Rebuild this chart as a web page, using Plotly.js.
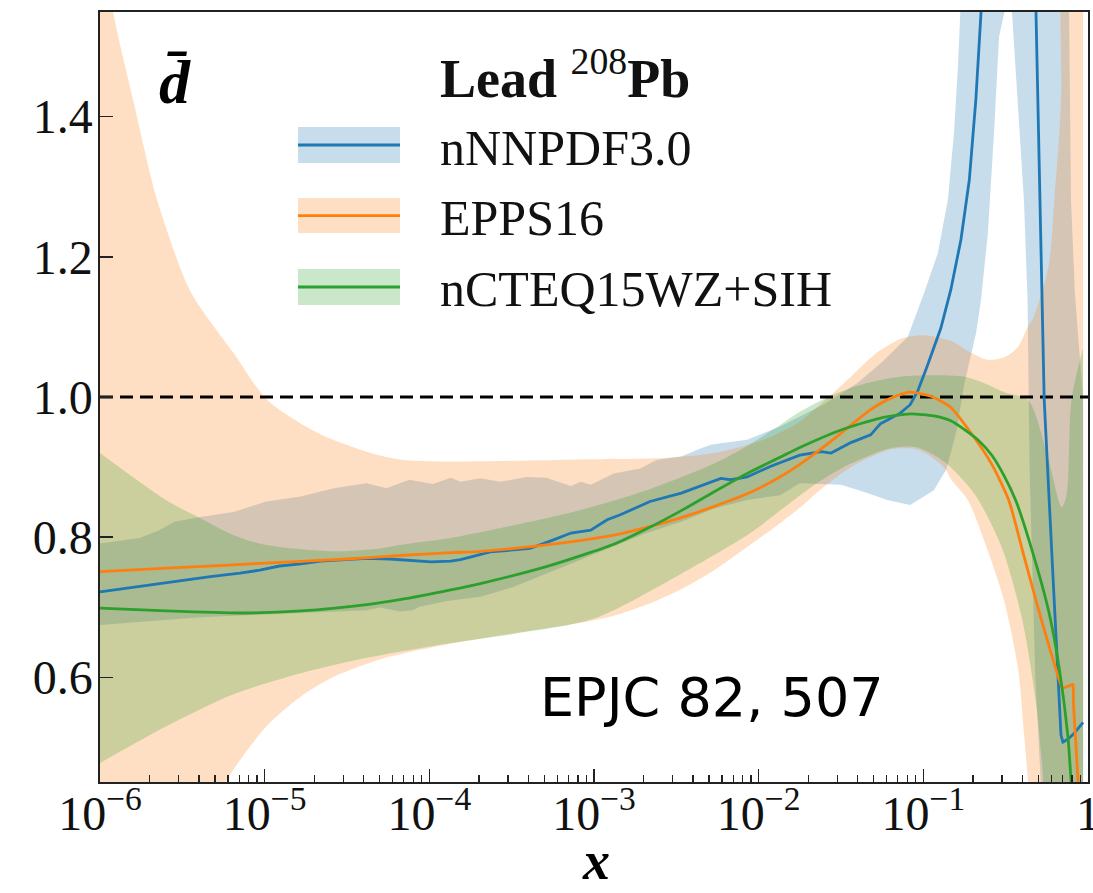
<!DOCTYPE html>
<html>
<head>
<meta charset="utf-8">
<script src="https://cdn.plot.ly/plotly-3.0.1.min.js"></script>
<style>html,body{margin:0;padding:0;background:#fff;}#chart{width:1093px;height:893px;}</style>
</head>
<body>
<div id="chart"></div>
<script>
// ---- Data: [log10(x), ratio] ----
const nnpdfCentral = [[-6,0.722],[-5.85,0.727],[-5.7,0.732],[-5.51,0.739],[-5.33,0.744],[-5.15,0.749],[-5.03,0.753],[-4.91,0.759],[-4.78,0.762],[-4.66,0.766],[-4.52,0.768],[-4.38,0.770],[-4.24,0.769],[-4.08,0.766],[-3.99,0.765],[-3.87,0.766],[-3.81,0.768],[-3.63,0.779],[-3.5,0.782],[-3.39,0.784],[-3.25,0.796],[-3.14,0.806],[-3.02,0.810],[-2.92,0.825],[-2.84,0.832],[-2.66,0.851],[-2.47,0.863],[-2.35,0.873],[-2.23,0.884],[-2.17,0.882],[-2.07,0.886],[-1.93,0.901],[-1.75,0.917],[-1.62,0.922],[-1.56,0.920],[-1.44,0.935],[-1.32,0.946],[-1.26,0.962],[-1.14,0.977],[-1.08,0.989],[-1.035,1.008],[-0.975,1.045],[-0.894,1.098],[-0.833,1.153],[-0.772,1.224],[-0.721,1.309],[-0.681,1.424],[-0.65,1.547],[-0.59,1.9],[-0.53,2.5],[-0.45,3.0],[-0.377,2.4],[-0.347,1.9],[-0.316,1.55],[-0.266,0.996],[-0.215,0.755],[-0.164,0.518],[-0.152,0.508],[-0.122,0.512],[-0.085,0.520],[-0.03,0.536]];
const nnpdfUpper = [[-6,0.791],[-5.76,0.799],[-5.64,0.810],[-5.55,0.822],[-5.39,0.829],[-5.19,0.836],[-5.15,0.839],[-4.99,0.851],[-4.78,0.858],[-4.58,0.870],[-4.38,0.877],[-4.26,0.870],[-4.18,0.877],[-4.12,0.882],[-3.98,0.876],[-3.87,0.885],[-3.81,0.879],[-3.69,0.884],[-3.57,0.879],[-3.41,0.886],[-3.29,0.885],[-3.14,0.873],[-3.08,0.879],[-3.02,0.875],[-2.88,0.891],[-2.72,0.898],[-2.62,0.910],[-2.47,0.915],[-2.35,0.927],[-2.29,0.932],[-2.23,0.934],[-2.07,0.939],[-1.87,0.958],[-1.6,0.99],[-1.4,1.02],[-1.25,1.05],[-1.094,1.086],[-0.996,1.148],[-0.912,1.205],[-0.851,1.281],[-0.814,1.376],[-0.79,1.47],[-0.775,1.55],[-0.74,1.9],[-0.6,2.8],[-0.45,3.5],[-0.3,3.0],[-0.2,2.2],[-0.14,1.75],[-0.115,1.55],[-0.103,1.28],[-0.08,1.15],[-0.061,1.09],[-0.03,1.0]];
const nnpdfLower = [[-6,0.675],[-5.39,0.686],[-4.78,0.692],[-4.38,0.696],[-4.3,0.700],[-4.22,0.696],[-4.18,0.694],[-4.1,0.696],[-4.06,0.701],[-3.89,0.709],[-3.69,0.715],[-3.49,0.729],[-3.28,0.749],[-3.08,0.768],[-2.88,0.787],[-2.68,0.806],[-2.47,0.822],[-2.27,0.841],[-2.07,0.853],[-1.87,0.860],[-1.75,0.877],[-1.5,0.875],[-1.34,0.863],[-1.22,0.853],[-1.08,0.846],[-0.936,0.867],[-0.86,0.897],[-0.8,0.95],[-0.75,1.02],[-0.7,1.07],[-0.68,1.091],[-0.65,1.138],[-0.608,1.234],[-0.571,1.376],[-0.54,1.514],[-0.497,1.56],[-0.48,1.6],[-0.462,1.55],[-0.428,1.424],[-0.389,1.281],[-0.367,1.138],[-0.355,0.9],[-0.32,0.6],[-0.28,0.42],[-0.2,0.3],[-0.03,0.3]];

const eppsCentral = [[-6,0.751],[-5.5,0.757],[-5,0.763],[-4.5,0.769],[-4.18,0.774],[-3.87,0.778],[-3.69,0.780],[-3.29,0.789],[-2.88,0.803],[-2.68,0.814],[-2.47,0.828],[-2.27,0.844],[-2.07,0.862],[-1.9,0.882],[-1.75,0.904],[-1.56,0.937],[-1.44,0.960],[-1.32,0.982],[-1.2,0.998],[-1.08,1.007],[-0.954,1.001],[-0.833,0.985],[-0.727,0.954],[-0.584,0.904],[-0.48,0.852],[-0.399,0.782],[-0.316,0.710],[-0.237,0.645],[-0.158,0.586],[-0.152,0.585],[-0.094,0.590],[-0.091,0.590],[-0.088,0.56],[-0.061,0.454],[-0.04,0.30]];
const eppsUpper = [[-6,1.75],[-5.96,1.62],[-5.921,1.55],[-5.799,1.424],[-5.653,1.281],[-5.471,1.16],[-5.392,1.128],[-5.19,1.063],[-4.985,0.996],[-4.68,0.949],[-4.38,0.922],[-4.18,0.911],[-3.87,0.908],[-3.08,0.911],[-2.58,0.913],[-2.27,0.920],[-1.97,0.939],[-1.75,0.965],[-1.6,0.995],[-1.44,1.029],[-1.3,1.06],[-1.137,1.083],[-1.0,1.088],[-0.833,1.08],[-0.71,1.063],[-0.608,1.053],[-0.505,1.057],[-0.426,1.071],[-0.365,1.10],[-0.33,1.114],[-0.24,1.186],[-0.205,1.28],[-0.164,1.42],[-0.155,1.7],[-0.03,1.8]];
const eppsLower = [[-6,0.15],[-5.5,0.33],[-5.23,0.454],[-4.99,0.530],[-4.78,0.573],[-4.58,0.601],[-4.28,0.627],[-3.87,0.648],[-3.49,0.663],[-3.08,0.678],[-2.88,0.688],[-2.68,0.704],[-2.47,0.726],[-2.27,0.753],[-2.07,0.786],[-1.87,0.820],[-1.75,0.842],[-1.64,0.865],[-1.44,0.90],[-1.2,0.925],[-1.035,0.925],[-0.875,0.90],[-0.83,0.882],[-0.73,0.853],[-0.632,0.796],[-0.511,0.711],[-0.426,0.615],[-0.389,0.521],[-0.365,0.454],[-0.34,0.35],[-0.03,0.3]];

const ncteqCentral = [[-6,0.699],[-5.6,0.695],[-5.15,0.692],[-4.78,0.695],[-4.38,0.704],[-4.18,0.711],[-3.87,0.725],[-3.69,0.734],[-3.29,0.758],[-2.88,0.790],[-2.68,0.812],[-2.47,0.838],[-2.27,0.865],[-2.07,0.891],[-1.87,0.914],[-1.75,0.928],[-1.5,0.953],[-1.26,0.970],[-1.08,0.976],[-0.936,0.973],[-0.833,0.966],[-0.748,0.953],[-0.66,0.937],[-0.584,0.917],[-0.51,0.888],[-0.438,0.852],[-0.338,0.780],[-0.237,0.693],[-0.174,0.612],[-0.122,0.516],[-0.103,0.454],[-0.08,0.38]];
const ncteqUpper = [[-6,0.920],[-5.6,0.853],[-5.39,0.827],[-5.19,0.803],[-4.99,0.789],[-4.58,0.780],[-4.3,0.784],[-4.18,0.789],[-3.87,0.799],[-3.69,0.807],[-3.08,0.839],[-2.68,0.867],[-2.27,0.905],[-2.07,0.930],[-1.87,0.960],[-1.75,0.979],[-1.54,1.004],[-1.34,1.020],[-1.14,1.029],[-0.94,1.031],[-0.75,1.029],[-0.632,1.02],[-0.5,1.006],[-0.365,0.996],[-0.25,0.92],[-0.16,0.843],[-0.13,0.86],[-0.1,0.996],[-0.03,1.07]];
const ncteqLower = [[-6,0.478],[-5.6,0.530],[-5.19,0.576],[-4.78,0.606],[-4.38,0.628],[-3.98,0.645],[-3.49,0.662],[-3.0,0.684],[-2.47,0.748],[-2.05,0.806],[-1.87,0.838],[-1.64,0.878],[-1.44,0.905],[-1.2,0.927],[-1.035,0.928],[-0.875,0.908],[-0.69,0.862],[-0.523,0.785],[-0.4,0.683],[-0.316,0.564],[-0.276,0.468],[-0.25,0.40],[-0.03,0.3]];

const refLineX = [1e-6, 1];
const refLineY = [1, 1];

const seriesNames = ['nNNPDF3.0', 'EPPS16', 'nCTEQ15WZ+SIH'];
const xTickVals = [1e-6, 1e-5, 1e-4, 1e-3, 1e-2, 1e-1, 1];
const xTickText = ['10<sup>−6</sup>', '10<sup>−5</sup>', '10<sup>−4</sup>', '10<sup>−3</sup>', '10<sup>−2</sup>', '10<sup>−1</sup>', '1'];
const yTickVals = [0.6, 0.8, 1.0, 1.2, 1.4];
const yTickText = ['0.6', '0.8', '1.0', '1.2', '1.4'];

// ---- styles ----
const colors = ['#1f77b4', '#ff7f0e', '#2ca02c'];
const fills = ['rgba(31,119,180,0.25)', 'rgba(255,127,14,0.25)', 'rgba(44,160,44,0.25)'];
const smooth = [false, true, true];

const xs = a => a.map(p => Math.pow(10, p[0]));
const ys = a => a.map(p => p[1]);
const shapeOf = i => smooth[i] ? {shape: 'spline', smoothing: 0.8} : {shape: 'linear'};

const bands = [[nnpdfLower, nnpdfUpper], [eppsLower, eppsUpper], [ncteqLower, ncteqUpper]];
const centrals = [nnpdfCentral, eppsCentral, ncteqCentral];

const traces = [];
bands.forEach((b, i) => {
  traces.push({x: xs(b[0]), y: ys(b[0]), mode: 'lines', line: Object.assign({width: 0, color: fills[i]}, shapeOf(i)), showlegend: false, hoverinfo: 'skip'});
  traces.push({x: xs(b[1]), y: ys(b[1]), mode: 'lines', line: Object.assign({width: 0, color: fills[i]}, shapeOf(i)), fill: 'tonexty', fillcolor: fills[i], showlegend: false, hoverinfo: 'skip', name: seriesNames[i] + ' band'});
});
traces.push({x: refLineX, y: refLineY, mode: 'lines', line: {color: '#000', width: 3, dash: '13px,7px'}, showlegend: false, hoverinfo: 'skip'});
centrals.forEach((c, i) => {
  traces.push({x: xs(c), y: ys(c), mode: 'lines', line: Object.assign({color: colors[i], width: 2.8}, smooth[i] ? {shape: 'spline', smoothing: 0.6} : {}), name: seriesNames[i], showlegend: false});
});

// minor ticks 2..9 per decade
const minorVals = [];
for (let e = -6; e < 0; e++) for (let m = 2; m <= 9; m++) minorVals.push(m * Math.pow(10, e));

// ---- manual legend (paper coordinates) ----
const L = 100, R = 1088, T = 12, B = 782;
const px = v => (v - L) / (R - L);
const py = v => (B - v) / (B - T);
const legRows = [[127, 163, 145, 148], [198, 233, 215.7, 218], [269, 305, 287, 289]];
const shapes = [];
const annotations = [];
legRows.forEach((r, i) => {
  shapes.push({type: 'rect', xref: 'paper', yref: 'paper', x0: px(298), x1: px(400), y0: py(r[1]), y1: py(r[0]), fillcolor: fills[i], line: {width: 0}, layer: 'above'});
  shapes.push({type: 'line', xref: 'paper', yref: 'paper', x0: px(298), x1: px(400), y0: py(r[2]), y1: py(r[2]), line: {color: colors[i], width: 2.8}, layer: 'above'});
  annotations.push({xref: 'paper', yref: 'paper', x: px(438), y: py(r[3]), xanchor: 'left', yanchor: 'middle', showarrow: false, text: seriesNames[i], font: {family: 'Liberation Serif', size: 50, color: '#111'}});
});
annotations.push({xref: 'paper', yref: 'paper', x: px(438), y: py(75), xanchor: 'left', yanchor: 'middle', showarrow: false, text: '<b>Lead</b> <sup>208</sup><b>Pb</b>', font: {family: 'Liberation Serif', size: 54, color: '#111'}});
annotations.push({xref: 'paper', yref: 'paper', x: px(175), y: py(82), xanchor: 'center', yanchor: 'middle', showarrow: false, text: '<b><i>d̄</i></b>', font: {family: 'Liberation Serif', size: 62, color: '#000'}});
annotations.push({xref: 'paper', yref: 'paper', x: px(538), y: py(697), xanchor: 'left', yanchor: 'middle', showarrow: false, text: 'EPJC 82, 507', font: {family: 'DejaVu Sans', size: 54, color: '#000'}});
// x-axis title, kept inside the page
annotations.push({xref: 'paper', yref: 'paper', x: px(596), y: py(892), xanchor: 'center', yanchor: 'bottom', borderpad: 0, showarrow: false, text: '<b><i>x</i></b>', font: {family: 'Liberation Serif', size: 54, color: '#000'}});

const axisCommon = {
  showgrid: false, zeroline: false, showline: true, mirror: true,
  linecolor: '#222', linewidth: 1.6,
  ticks: 'inside', ticklen: 13, tickwidth: 1.6, tickcolor: '#222',
  ticklabeloverflow: 'allow',
  tickfont: {family: 'Liberation Serif', size: 48, color: '#111'}
};

const layout = {
  width: 1093, height: 893, autosize: false,
  margin: {l: L, r: 1093 - R, t: T, b: 893 - B},
  paper_bgcolor: '#fff', plot_bgcolor: '#fff',
  showlegend: false,
  xaxis: Object.assign({}, axisCommon, {
    type: 'log', range: [-6, 0],
    tickmode: 'array', tickvals: xTickVals, ticktext: xTickText,
    ticklabelstandoff: -11,
    minor: {tickmode: 'array', tickvals: minorVals, ticks: 'inside', ticklen: 7, tickwidth: 1.3, tickcolor: '#222', showgrid: false}
  }),
  yaxis: Object.assign({}, axisCommon, {
    range: [0.451, 1.549],
    ticklabelstandoff: -4,
    tickmode: 'array', tickvals: yTickVals, ticktext: yTickText
  }),
  shapes: shapes,
  annotations: annotations
};

Plotly.newPlot('chart', traces, layout, {staticPlot: true, displayModeBar: false});
</script>
</body>
</html>
